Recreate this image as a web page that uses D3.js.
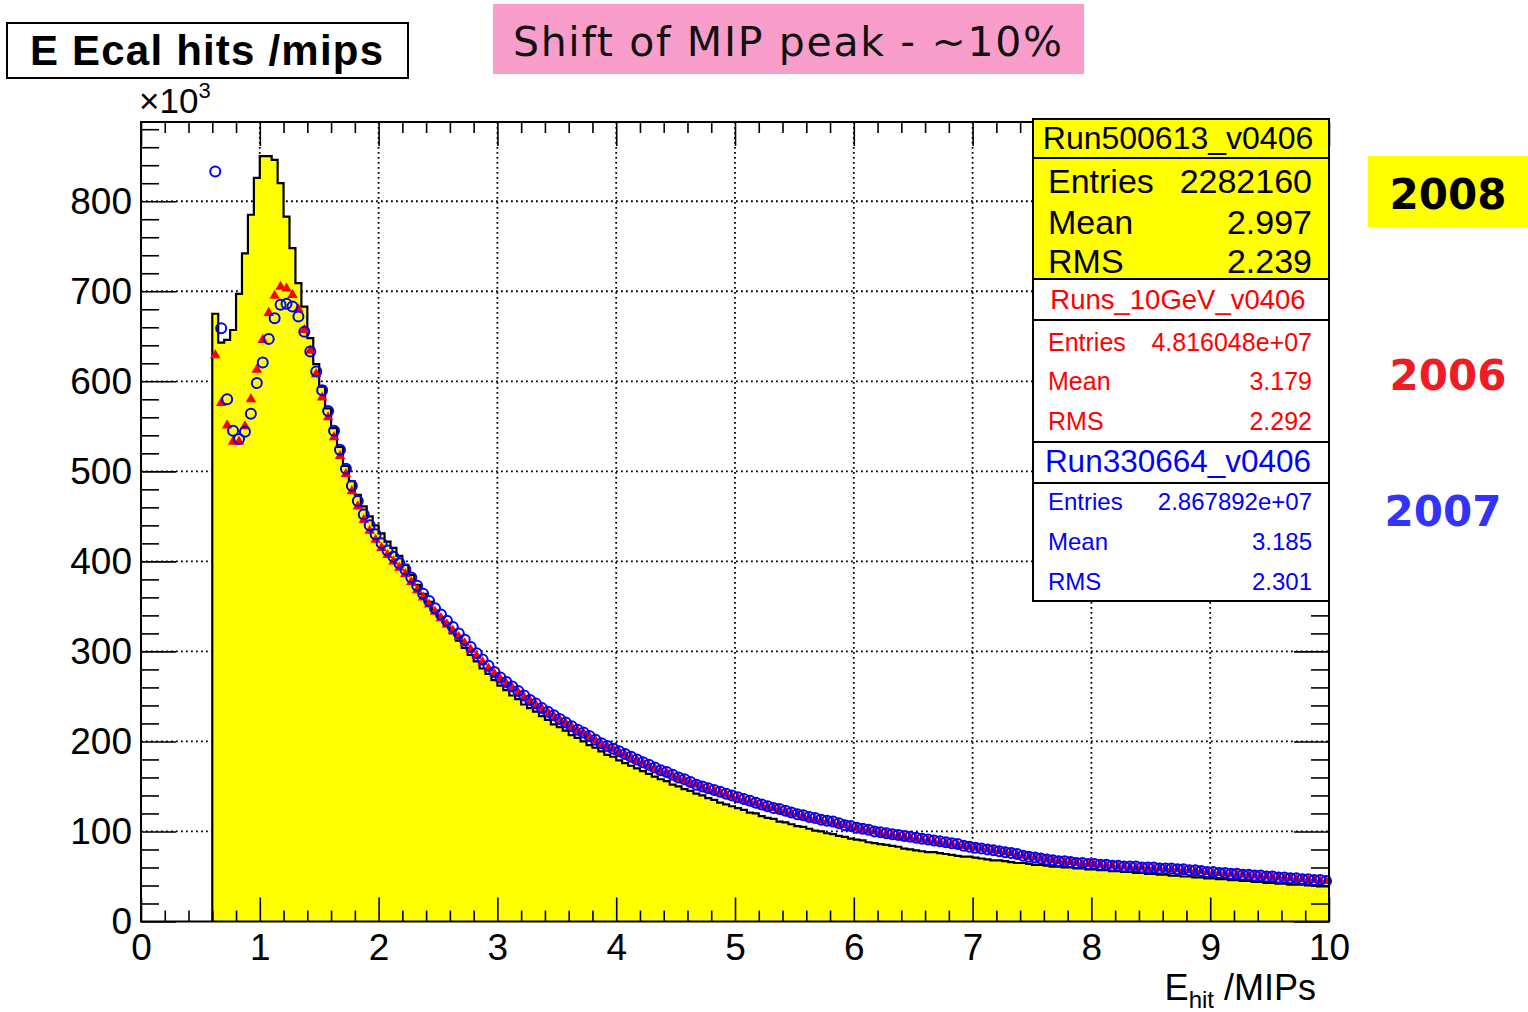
<!DOCTYPE html>
<html>
<head>
<meta charset="utf-8">
<script src="https://cdn.jsdelivr.net/npm/d3@7"></script>
<style>
  body { margin: 0; background: #fff; }
  text { font-family: "Liberation Sans", Arial, Helvetica, sans-serif; }
</style>
</head>
<body>
<div id="chart"></div>
<script>
var svgWidth = 1528;
var svgHeight = 1012;

// histogram binning (bins of 0.05 MIP starting at 0.6)
var binLow = 0.6;
var binWidth = 0.05;

// 2008 run (yellow histogram), counts x10^3 per bin
var hist2008 = [
  675, 643, 646, 657, 697, 742, 785, 826, 850, 850,
  846, 820, 783, 748, 709, 683, 648, 619, 594, 570,
  548, 527, 506, 489, 474, 461, 450, 440, 431, 422,
  415, 406, 396, 385, 374, 364, 355, 345, 336, 328,
  320, 312, 304, 296, 289, 281, 275, 268, 262, 257,
  251, 247, 241, 237, 233, 228, 224, 219, 216, 212,
  207, 204, 200, 196, 193, 189, 185, 183, 179, 176,
  173, 170, 167, 164, 161, 158, 156, 152, 150, 147,
  145, 142, 140, 137, 135, 132, 130, 128, 126, 124,
  121, 120, 117, 115, 114, 111, 110, 108, 106, 105,
  103, 101, 100, 98, 97, 95, 94, 92, 91, 90,
  88, 87, 86, 85, 84, 83, 81, 80, 79, 78,
  77, 77, 76, 75, 74, 73, 72, 72, 71, 70,
  69, 68, 68, 67, 66, 65, 65, 64, 63, 63,
  62, 61, 61, 60, 60, 59, 59, 58, 58, 57,
  57, 56, 56, 55, 55, 54, 54, 53, 53, 52,
  52, 51, 51, 50, 50, 49, 49, 48, 48, 47,
  47, 46, 46, 45, 45, 44, 44, 43, 43, 42,
  42, 41, 41, 41, 40, 40, 39, 39
];

// 2006 runs (red markers)
var pts2006 = [
  629, 576, 551, 533, 533, 550, 580, 613, 646, 676,
  695, 705, 703, 696, 680, 657, 634, 608, 582, 560,
  538, 517, 497, 478, 461, 446, 434, 424, 415, 407,
  400, 393, 386, 377, 368, 360, 352, 344, 337, 330,
  323, 316, 309, 302, 295, 288, 281, 275, 269, 264,
  259, 254, 249, 245, 240, 236, 232, 228, 224, 220,
  216, 212, 209, 205, 201, 197, 194, 191, 188, 185,
  182, 179, 176, 173, 170, 167, 165, 162, 159, 157,
  154, 152, 149, 147, 145, 143, 141, 139, 137, 135,
  133, 131, 129, 127, 126, 124, 122, 120, 119, 117,
  115, 114, 112, 111, 110, 108, 107, 105, 104, 102,
  101, 100, 98, 97, 96, 95, 94, 93, 92, 91,
  90, 89, 88, 87, 86, 85, 84, 83, 82, 81,
  80, 79, 78, 77, 76, 74, 73, 72, 71, 70,
  69, 68, 67, 66, 66, 65, 64, 64, 63, 63,
  62, 62, 61, 61, 60, 60, 60, 59, 59, 59,
  58, 58, 58, 57, 57, 56, 56, 55, 54, 54,
  53, 53, 52, 52, 51, 51, 50, 50, 49, 49,
  48, 48, 47, 47, 46, 46, 45, 45
];

// 2007 run (blue open circles)
var pts2007 = [
  833, 659, 580, 545, 536, 544, 564, 598, 621, 647,
  670, 685, 686, 683, 672, 655, 633, 611, 590, 567,
  545, 524, 503, 484, 467, 452, 440, 430, 420, 412,
  405, 398, 391, 382, 373, 364, 356, 348, 341, 334,
  327, 320, 313, 305, 298, 291, 284, 277, 271, 266,
  261, 256, 251, 246, 242, 237, 233, 229, 225, 221,
  217, 213, 210, 206, 202, 198, 195, 192, 189, 186,
  183, 180, 177, 174, 171, 168, 166, 163, 160, 158,
  155, 152, 150, 148, 146, 144, 142, 140, 138, 136,
  134, 132, 130, 128, 126, 125, 123, 121, 119, 118,
  116, 115, 113, 112, 111, 109, 107, 106, 104, 103,
  102, 100, 99, 98, 97, 96, 95, 94, 93, 92,
  91, 90, 89, 88, 87, 86, 84, 83, 82, 81,
  80, 79, 78, 77, 76, 75, 73, 72, 71, 70,
  69, 68, 67, 67, 66, 65, 65, 64, 64, 63,
  63, 62, 62, 61, 61, 61, 60, 60, 60, 59,
  59, 59, 58, 58, 57, 57, 56, 55, 55, 54,
  54, 53, 53, 52, 52, 51, 51, 50, 50, 49,
  49, 48, 48, 47, 47, 46, 46, 45
];

var xTicks = [0, 1, 2, 3, 4, 5, 6, 7, 8, 9, 10];
var yTicks = [0, 100, 200, 300, 400, 500, 600, 700, 800];
var xGrid = [1, 2, 3, 4, 5, 6, 7, 8, 9];
var yGrid = [100, 200, 300, 400, 500, 600, 700, 800];

var statNames = ["Entries", "Mean", "RMS"];
var stats2008 = ["2282160", "2.997", "2.239"];
var stats2006 = ["4.816048e+07", "3.179", "2.292"];
var stats2007 = ["2.867892e+07", "3.185", "2.301"];

// frame of the pad
var frame = { left: 141, right: 1329, top: 122, bottom: 921.5 };

var svg = d3.select("#chart")
  .append("svg")
  .attr("width", svgWidth)
  .attr("height", svgHeight);

var x = d3.scaleLinear().domain([0, 10]).range([frame.left, frame.right]);
var y = d3.scaleLinear().domain([0, 888]).range([frame.bottom, frame.top]);

// dotted grid
svg.append("g").selectAll("line")
  .data(xGrid)
  .enter()
  .append("line")
  .attr("x1", d => x(d)).attr("x2", d => x(d))
  .attr("y1", frame.top).attr("y2", frame.bottom)
  .attr("stroke", "#000")
  .attr("stroke-width", 1.8)
  .attr("stroke-dasharray", "1.8,3.2");

svg.append("g").selectAll("line")
  .data(yGrid)
  .enter()
  .append("line")
  .attr("x1", frame.left).attr("x2", frame.right)
  .attr("y1", d => y(d)).attr("y2", d => y(d))
  .attr("stroke", "#000")
  .attr("stroke-width", 1.8)
  .attr("stroke-dasharray", "1.8,3.2");

// yellow histogram
var bins = hist2008.map((v, i) => ({ lo: binLow + i * binWidth, v: v }));
var stepData = bins.concat([{ lo: 10, v: hist2008[hist2008.length - 1] }]);

svg.append("path")
  .datum(stepData)
  .attr("fill", "#ffff00")
  .attr("d", d3.area()
    .curve(d3.curveStepAfter)
    .x(d => x(d.lo))
    .y0(y(0))
    .y1(d => y(d.v)));

svg.append("path")
  .datum([{ lo: binLow, v: 0 }].concat(stepData))
  .attr("fill", "none")
  .attr("stroke", "#000")
  .attr("stroke-width", 2.2)
  .attr("d", d3.line()
    .curve(d3.curveStepAfter)
    .x(d => x(d.lo))
    .y(d => y(d.v)));

// red markers (2006)
var tri = d3.symbol().type(d3.symbolTriangle).size(48);
svg.append("g").selectAll("path")
  .data(pts2006)
  .enter()
  .append("path")
  .attr("d", tri)
  .attr("transform", (d, i) => `translate(${x(binLow + (i + 0.5) * binWidth)},${y(d)})`)
  .attr("fill", "#ff0000");

// blue markers (2007)
svg.append("g").selectAll("circle")
  .data(pts2007)
  .enter()
  .append("circle")
  .attr("cx", (d, i) => x(binLow + (i + 0.5) * binWidth))
  .attr("cy", d => y(d))
  .attr("r", 5)
  .attr("fill", "none")
  .attr("stroke", "#0000ff")
  .attr("stroke-width", 2);

// axes, ROOT style: ticks pointing inwards on all four sides
var xMinor = d3.range(0.2, 10, 0.2).filter(v => Math.abs(v - Math.round(v)) > 0.01);
var yMinor = d3.range(20, 888, 20).filter(v => v % 100 != 0);

function styleAxis(g) {
  g.select(".domain").remove();
  g.selectAll(".tick line").attr("stroke", "#000").attr("stroke-width", 1.6);
  g.selectAll("text").attr("fill", "#000").style("font-size", "37px")
    .style("font-family", "'Liberation Sans', Arial, sans-serif");
}

svg.append("g")
  .attr("transform", `translate(0,${frame.bottom})`)
  .call(d3.axisBottom(x).tickValues(xTicks).tickSize(-24).tickPadding(12).tickFormat(d3.format("d")))
  .call(styleAxis);
svg.append("g")
  .attr("transform", `translate(0,${frame.bottom})`)
  .call(d3.axisBottom(x).tickValues(xMinor).tickSize(-11).tickFormat(""))
  .call(styleAxis);
svg.append("g")
  .attr("transform", `translate(0,${frame.top})`)
  .call(d3.axisTop(x).tickValues(xTicks).tickSize(-24).tickFormat(""))
  .call(styleAxis);
svg.append("g")
  .attr("transform", `translate(0,${frame.top})`)
  .call(d3.axisTop(x).tickValues(xMinor).tickSize(-11).tickFormat(""))
  .call(styleAxis);

svg.append("g")
  .attr("transform", `translate(${frame.left},0)`)
  .call(d3.axisLeft(y).tickValues(yTicks).tickSize(-35).tickPadding(9).tickFormat(d3.format("d")))
  .call(styleAxis);
svg.append("g")
  .attr("transform", `translate(${frame.left},0)`)
  .call(d3.axisLeft(y).tickValues(yMinor).tickSize(-18).tickFormat(""))
  .call(styleAxis);
svg.append("g")
  .attr("transform", `translate(${frame.right},0)`)
  .call(d3.axisRight(y).tickValues(yTicks).tickSize(-35).tickFormat(""))
  .call(styleAxis);
svg.append("g")
  .attr("transform", `translate(${frame.right},0)`)
  .call(d3.axisRight(y).tickValues(yMinor).tickSize(-18).tickFormat(""))
  .call(styleAxis);

// frame
svg.append("rect")
  .attr("x", frame.left).attr("y", frame.top)
  .attr("width", frame.right - frame.left)
  .attr("height", frame.bottom - frame.top)
  .attr("fill", "none")
  .attr("stroke", "#000")
  .attr("stroke-width", 2);

// x10^3 exponent label
var expo = svg.append("text")
  .attr("x", 139).attr("y", 113)
  .style("font-size", "35px");
expo.append("tspan").text("\u00d710");
expo.append("tspan").attr("dy", -15).style("font-size", "22px").text("3");

// X axis title
var xTitle = svg.append("text")
  .attr("x", 1316).attr("y", 1000)
  .attr("text-anchor", "end")
  .style("font-size", "36px");
xTitle.append("tspan").text("E");
xTitle.append("tspan").attr("dy", 8).style("font-size", "24px").text("hit");
xTitle.append("tspan").attr("dy", -8).text(" /MIPs");

// histogram title box
svg.append("rect")
  .attr("x", 7).attr("y", 23).attr("width", 401).attr("height", 55)
  .attr("fill", "#fff").attr("stroke", "#000").attr("stroke-width", 2);
svg.append("text")
  .attr("x", 30).attr("y", 65)
  .attr("textLength", 353)
  .style("font-size", "42px").style("font-weight", "bold")
  .text("E Ecal hits /mips");

// pink annotation
svg.append("rect")
  .attr("x", 493).attr("y", 4).attr("width", 591).attr("height", 70)
  .attr("fill", "#f99dcb");
svg.append("text")
  .attr("x", 513).attr("y", 56)
  .attr("textLength", 549)
  .style("font-family", "'DejaVu Sans', Verdana, sans-serif")
  .style("font-size", "41px")
  .attr("fill", "#111")
  .text("Shift of MIP peak - ~10%");

// stats boxes
var boxL = 1033, boxR = 1329, txtL = 1048, txtR = 1312;

function statBox(top, titleBottom, bottom, fill, color, title, titleSize, titleBase, vals, size, bases) {
  svg.append("rect")
    .attr("x", boxL).attr("y", top).attr("width", boxR - boxL).attr("height", bottom - top)
    .attr("fill", fill).attr("stroke", "#000").attr("stroke-width", 2);
  svg.append("line")
    .attr("x1", boxL).attr("x2", boxR).attr("y1", titleBottom).attr("y2", titleBottom)
    .attr("stroke", "#000").attr("stroke-width", 2);
  svg.append("text")
    .attr("x", (boxL + boxR) / 2 - 3).attr("y", titleBase)
    .attr("text-anchor", "middle")
    .attr("fill", color)
    .style("font-size", titleSize + "px")
    .text(title);
  statNames.forEach(function(name, i) {
    svg.append("text")
      .attr("x", txtL).attr("y", bases[i])
      .attr("fill", color).style("font-size", size + "px")
      .text(name);
    svg.append("text")
      .attr("x", txtR).attr("y", bases[i])
      .attr("text-anchor", "end")
      .attr("fill", color).style("font-size", size + "px")
      .text(vals[i]);
  });
}

statBox(119, 158, 279, "#ffff00", "#000", "Run500613_v0406", 32, 149, stats2008, 34, [193, 234, 273]);
statBox(279, 320, 442, "#fff", "#ff0000", "Runs_10GeV_v0406", 27.5, 309, stats2006, 25, [351, 390, 430]);
statBox(442, 483, 601, "#fff", "#0000ff", "Run330664_v0406", 31.5, 472, stats2007, 24, [510, 550, 590]);

// year labels
svg.append("rect")
  .attr("x", 1368).attr("y", 156).attr("width", 160).attr("height", 71)
  .attr("fill", "#ffff00");

var yearFont = "'DejaVu Sans', Verdana, sans-serif";
svg.append("text")
  .attr("x", 1448).attr("y", 209).attr("text-anchor", "middle")
  .style("font-family", yearFont).style("font-weight", "bold").style("font-size", "42px")
  .attr("fill", "#000").text("2008");
svg.append("text")
  .attr("x", 1448).attr("y", 390).attr("text-anchor", "middle")
  .style("font-family", yearFont).style("font-weight", "bold").style("font-size", "42px")
  .attr("fill", "#ee1c25").text("2006");
svg.append("text")
  .attr("x", 1443).attr("y", 526).attr("text-anchor", "middle")
  .style("font-family", yearFont).style("font-weight", "bold").style("font-size", "42px")
  .attr("fill", "#3333ff").text("2007");
</script>
</body>
</html>
